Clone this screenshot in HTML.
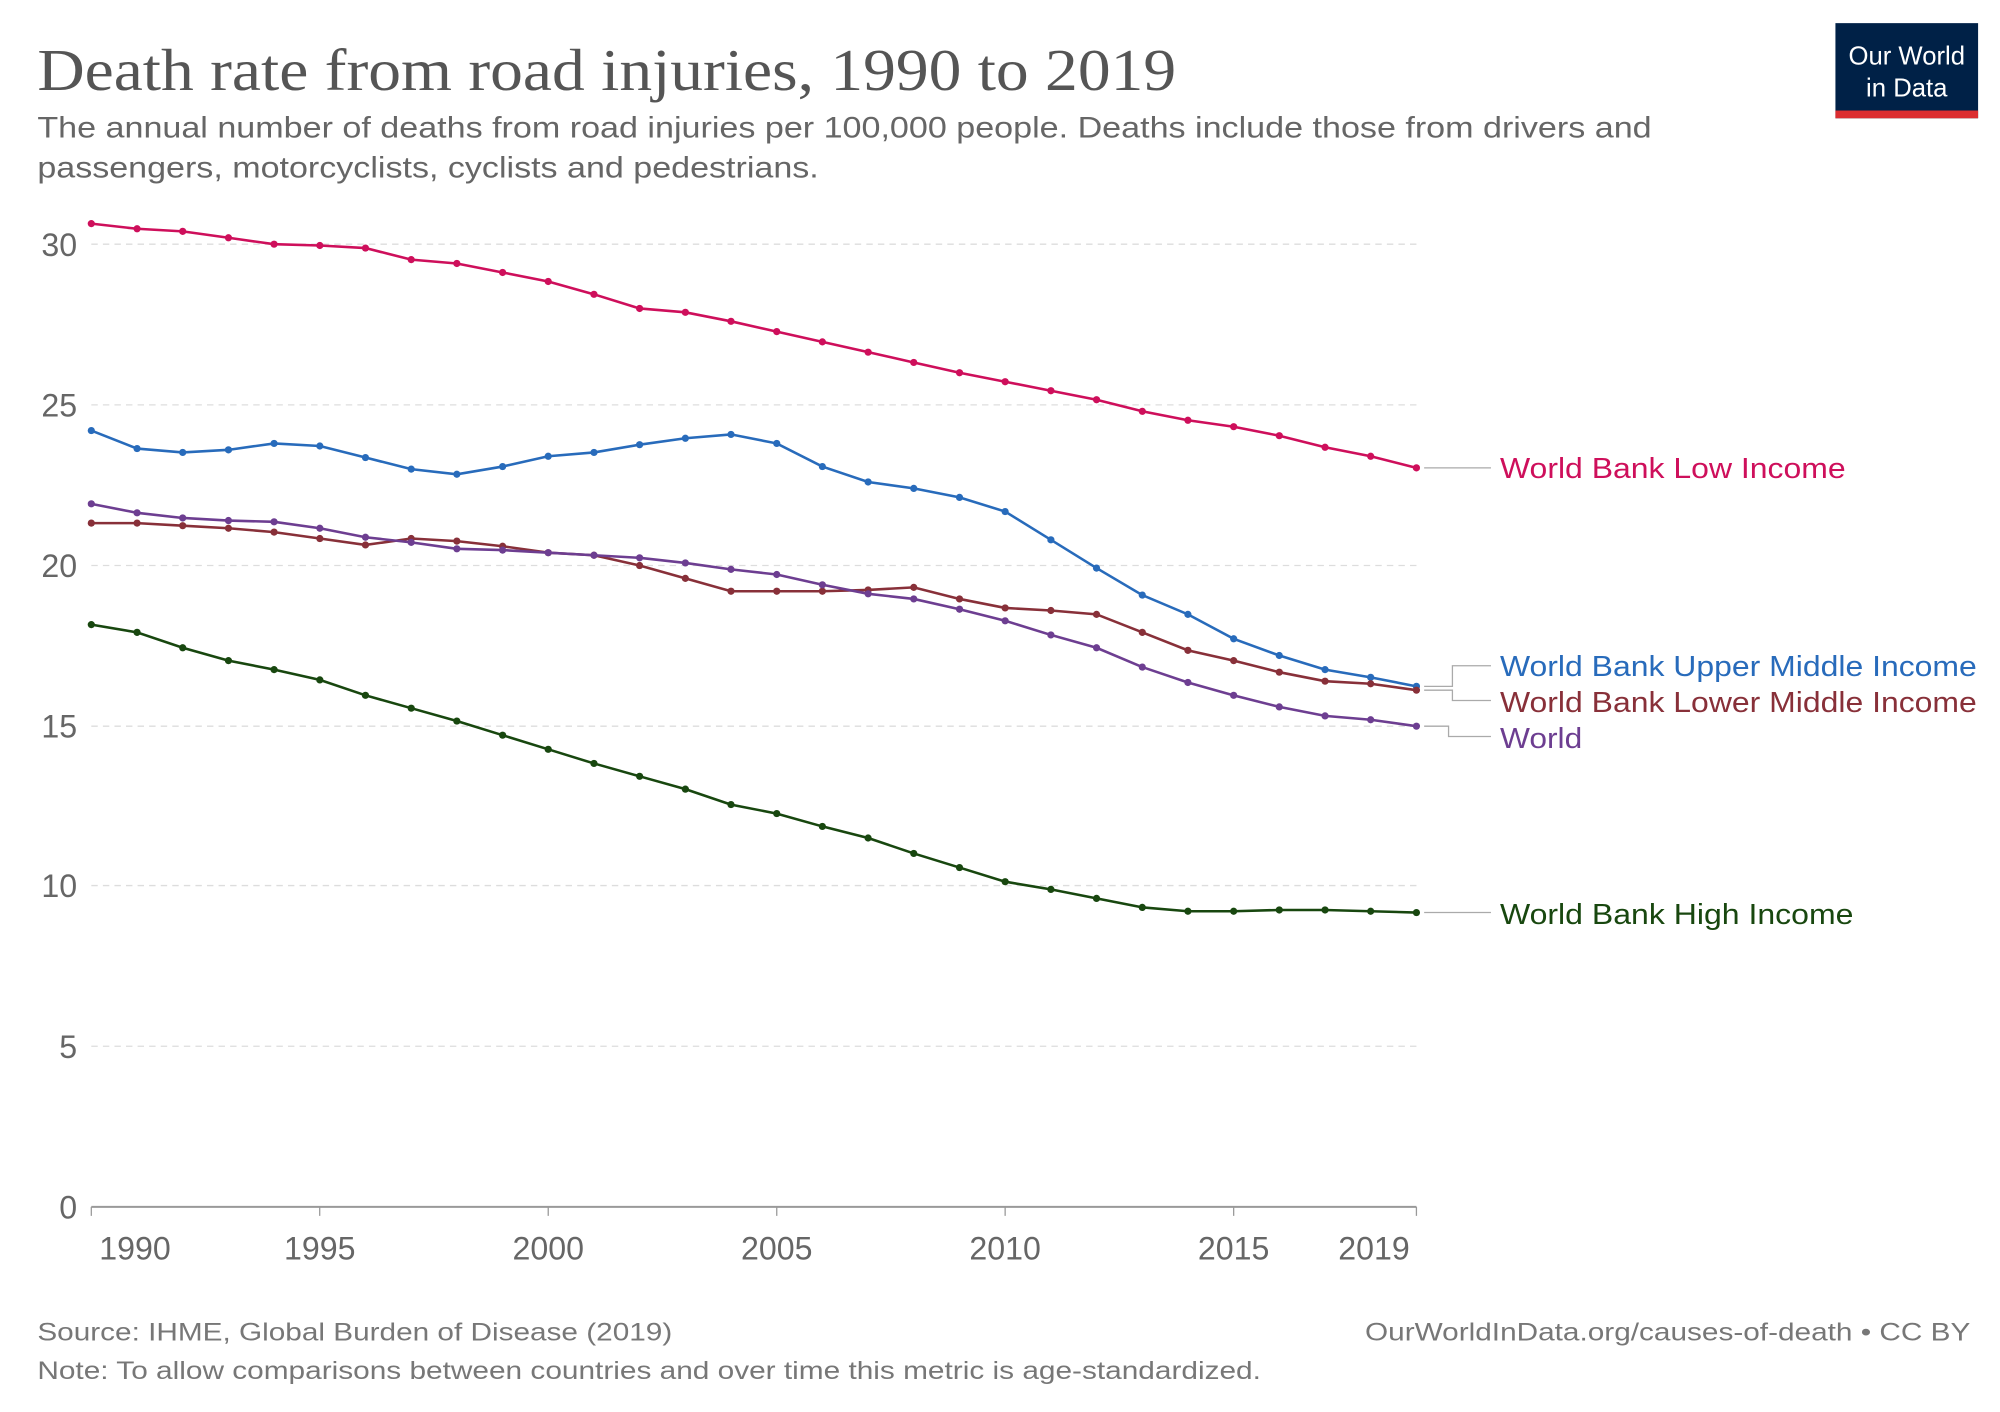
<!DOCTYPE html>
<html><head><meta charset="utf-8"><style>
html,body{margin:0;padding:0;background:#fff;width:2000px;height:1412px;overflow:hidden}
svg{display:block}
text{font-family:"Liberation Sans",Arial,sans-serif}
</style></head><body>
<svg width="2000" height="1412" viewBox="0 0 1556 1098.6" xmlns="http://www.w3.org/2000/svg">
<text x="29" y="70" style="font-family:'Liberation Serif',serif" font-size="46" fill="#555" textLength="886" lengthAdjust="spacingAndGlyphs">Death rate from road injuries, 1990 to 2019</text>
<text x="29" y="107" font-size="23" fill="#666" textLength="1256" lengthAdjust="spacingAndGlyphs">The annual number of deaths from road injuries per 100,000 people. Deaths include those from drivers and</text>
<text x="29" y="138" font-size="23" fill="#666" textLength="608" lengthAdjust="spacingAndGlyphs">passengers, motorcyclists, cyclists and pedestrians.</text>
<rect x="1428" y="18" width="111" height="74" fill="#002147"/>
<rect x="1428" y="86" width="111" height="6" fill="#dc2d30"/>
<text x="1483.5" y="50" font-size="20" fill="#fff" text-anchor="middle">Our World</text>
<text x="1483.5" y="75" font-size="20" fill="#fff" text-anchor="middle">in Data</text>
<g stroke="#ddd" stroke-dasharray="5,4" stroke-width="1">
<line x1="71" x2="1102" y1="190" y2="190"/><line x1="71" x2="1102" y1="315" y2="315"/><line x1="71" x2="1102" y1="440" y2="440"/><line x1="71" x2="1102" y1="565" y2="565"/><line x1="71" x2="1102" y1="689" y2="689"/><line x1="71" x2="1102" y1="814" y2="814"/>
</g>
<g font-size="25" fill="#666" text-anchor="end">
<text x="60" y="199">30</text><text x="60" y="324">25</text><text x="60" y="449">20</text><text x="60" y="574">15</text><text x="60" y="698">10</text><text x="60" y="823">5</text><text x="60" y="948">0</text>
</g>
<line x1="71" x2="1102" y1="939" y2="939" stroke="#999" stroke-width="1.5"/>
<g stroke="#999" stroke-width="1">
<line x1="71" x2="71" y1="939" y2="946"/><line x1="248.7" x2="248.7" y1="939" y2="946"/><line x1="426.5" x2="426.5" y1="939" y2="946"/><line x1="604.3" x2="604.3" y1="939" y2="946"/><line x1="782" x2="782" y1="939" y2="946"/><line x1="959.8" x2="959.8" y1="939" y2="946"/><line x1="1102" x2="1102" y1="939" y2="946"/>
</g>
<g font-size="25" fill="#666" text-anchor="middle">
<text x="105" y="980">1990</text><text x="248.7" y="980">1995</text><text x="426.5" y="980">2000</text><text x="604.3" y="980">2005</text><text x="782" y="980">2010</text><text x="959.8" y="980">2015</text><text x="1069" y="980">2019</text>
</g>
<g stroke="#aaa" stroke-width="1" fill="none">
<path d="M1108 364H1160"/>
<path d="M1108 534H1130V518H1160"/>
<path d="M1108 537H1130V545H1160"/>
<path d="M1108 565H1127V573H1160"/>
<path d="M1108 710H1160"/>
</g>
<g font-size="22.5">
<text x="1167" y="372" fill="#ce0f5b" textLength="269" lengthAdjust="spacingAndGlyphs">World Bank Low Income</text>
<text x="1167" y="526" fill="#286bbb" textLength="371" lengthAdjust="spacingAndGlyphs">World Bank Upper Middle Income</text>
<text x="1167" y="554" fill="#883039" textLength="371" lengthAdjust="spacingAndGlyphs">World Bank Lower Middle Income</text>
<text x="1167" y="582" fill="#6d3e91" textLength="64" lengthAdjust="spacingAndGlyphs">World</text>
<text x="1167" y="719" fill="#18470f" textLength="275" lengthAdjust="spacingAndGlyphs">World Bank High Income</text>
</g>
<g id="series"></g>
<text x="29" y="1043" font-size="19.5" fill="#777" textLength="494" lengthAdjust="spacingAndGlyphs">Source: IHME, Global Burden of Disease (2019)</text>
<text x="1533" y="1043" font-size="19.5" fill="#777" text-anchor="end" textLength="471" lengthAdjust="spacingAndGlyphs">OurWorldInData.org/causes-of-death • CC BY</text>
<text x="29" y="1073" font-size="19.5" fill="#777" textLength="952" lengthAdjust="spacingAndGlyphs">Note: To allow comparisons between countries and over time this metric is age-standardized.</text>
</svg>
<script>
var S=[
["#ce0f5b",[174,178,180,185,190,191,193,202,205,212,219,229,240,243,250,258,266,274,282,290,297,304,311,320,327,332,339,348,355,364]],
["#286bbb",[335,349,352,350,345,347,356,365,369,363,355,352,346,341,338,345,363,375,380,387,398,420,442,463,478,497,510,521,527,534]],
["#883039",[407,407,409,411,414,419,424,419,421,425,430,432,440,450,460,460,460,459,457,466,473,475,478,492,506,514,523,530,532,537]],
["#6d3e91",[392,399,403,405,406,411,418,422,427,428,430,432,434,438,443,447,455,462,466,474,483,494,504,519,531,541,550,557,560,565]],
["#18470f",[486,492,504,514,521,529,541,551,561,572,583,594,604,614,626,633,643,652,664,675,686,692,699,706,709,709,708,708,709,710]]];
var g=document.getElementById('series'),h="";
S.forEach(function(s){var p="";s[1].forEach(function(y,i){var x=71+i*1031/29;p+=(i?"L":"M")+x.toFixed(1)+" "+y;h+='<circle cx="'+x.toFixed(1)+'" cy="'+y+'" r="2.8" fill="'+s[0]+'"/>';});
h='<path d="'+p+'" fill="none" stroke="'+s[0]+'" stroke-width="2"/>'+h;g.innerHTML+=h;h="";});
</script>
</body></html>
